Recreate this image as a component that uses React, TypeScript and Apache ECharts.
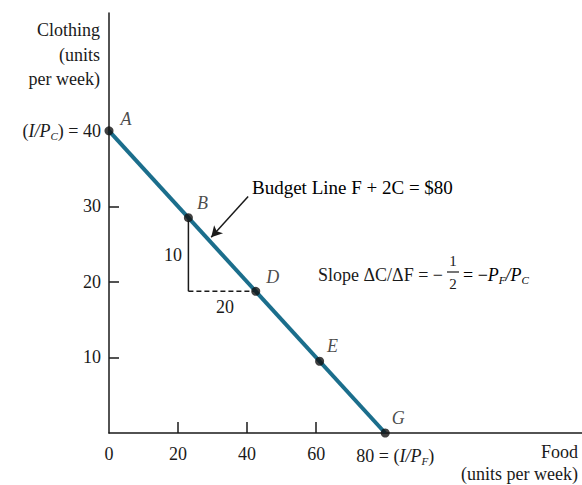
import React, { useEffect, useRef } from "react";
import * as echarts from "echarts";

const budgetLine: [number, number][] = [[0, 40], [80, 0]];
const pointNames = ["A", "B", "D", "E", "G"];
const pointX = [0, 23, 42.5, 61, 80];
const pointY = [40, 28.5, 18.75, 9.5, 0];
const labelOffsets: [number, number][] = [[17, -12], [14, -15], [17, -14], [13, -15], [13, -15]];
const riseSegment: [number, number][] = [[23, 28.5], [23, 18.75]];
const runSegment: [number, number][] = [[23, 18.75], [42.5, 18.75]];
const arrowFrom: [number, number] = [40.3, 31.3];
const arrowTo: [number, number] = [29.6, 25.9];
const xTickValues = [20, 40, 60];
const xLabelValues = [0, 20, 40, 60, 80];
const yTickValues = [10, 20, 30];
const yLabelValues = [10, 20, 30, 40];

const SERIF = "'Liberation Serif', 'DejaVu Serif', serif";
const FS = 18;
const INK = "#1a1a1a";

export default function App() {
  const ref = useRef<HTMLDivElement>(null);
  useEffect(() => {
    document.body.style.margin = "0";
    const chart = echarts.init(ref.current!, null, { renderer: "svg" });
    const rich = {
      n: { fontFamily: SERIF, fontSize: FS, color: INK },
      b: { fontFamily: SERIF, fontSize: 19, color: INK },
      i: { fontFamily: SERIF, fontSize: FS, color: INK, fontStyle: "italic" },
      s: { fontFamily: SERIF, fontSize: 11, color: INK, fontStyle: "italic", padding: [10, 0, 0, 0] },
      w: { width: 20 },
    };
    chart.setOption({
      animation: false,
      grid: { left: 109, right: 0, top: 13, bottom: 52 },
      xAxis: {
        type: "value",
        min: 0,
        max: 137,
        splitLine: { show: false },
        axisLine: { show: true, lineStyle: { color: INK, width: 1.5 } },
        axisTick: { show: true, customValues: xTickValues, inside: true, length: 11, lineStyle: { color: INK, width: 1.5 } },
        axisLabel: {
          customValues: xLabelValues,
          margin: 12,
          fontFamily: SERIF,
          fontSize: FS,
          color: INK,
          rich,
          formatter: (v: number) => (v === 80 ? "{w| }{n|80 = (}{i|I/P}{s|F}{n|)}" : String(v)),
        },
      },
      yAxis: {
        type: "value",
        min: 0,
        max: 55.6,
        splitLine: { show: false },
        axisLine: { show: true, lineStyle: { color: INK, width: 1.5 } },
        axisTick: { show: true, customValues: yTickValues, inside: true, length: 10, lineStyle: { color: INK, width: 1.5 } },
        axisLabel: {
          customValues: yLabelValues,
          margin: 8,
          fontFamily: SERIF,
          fontSize: FS,
          color: INK,
          rich,
          formatter: (v: number) => (v === 40 ? "{n|(}{i|I/P}{s|C}{n|) = 40}" : String(v)),
        },
      },
      series: [
        {
          type: "line",
          data: budgetLine,
          symbol: "none",
          clip: false,
          lineStyle: { color: "#1b6e8c", width: 4 },
          z: 3,
          markLine: {
            silent: true,
            symbol: ["none", "arrow"],
            symbolSize: [9, 11],
            label: { show: false },
            lineStyle: { color: INK, type: "solid", width: 1.5 },
            data: [[{ coord: arrowFrom }, { coord: arrowTo }]],
          },
        },
        {
          type: "line",
          data: riseSegment,
          symbol: "none",
          lineStyle: { color: INK, width: 1.5 },
          z: 2,
        },
        {
          type: "line",
          data: runSegment,
          symbol: "none",
          lineStyle: { color: INK, width: 1.5, type: [5, 3] },
          z: 2,
        },
        {
          type: "scatter",
          clip: false,
          symbolSize: 9,
          itemStyle: { color: "#111" },
          z: 5,
          data: pointNames.map((name, k) => ({
            name,
            value: [pointX[k], pointY[k]],
            label: {
              show: true,
              position: "inside",
              offset: labelOffsets[k],
              formatter: name,
              fontFamily: SERIF,
              fontSize: FS,
              fontStyle: "italic",
              color: INK,
            },
          })),
        },
      ],
      graphic: [
        { type: "text", x: 100, y: 30, style: { text: "Clothing", align: "right", verticalAlign: "middle", font: `${FS}px ${SERIF}`, fill: INK } },
        { type: "text", x: 100, y: 55, style: { text: "(units", align: "right", verticalAlign: "middle", font: `${FS}px ${SERIF}`, fill: INK } },
        { type: "text", x: 100, y: 79, style: { text: "per week)", align: "right", verticalAlign: "middle", font: `${FS}px ${SERIF}`, fill: INK } },
        { type: "text", x: 578, y: 452, style: { text: "Food", align: "right", verticalAlign: "middle", font: `${FS}px ${SERIF}`, fill: INK } },
        { type: "text", x: 578, y: 474, style: { text: "(units per week)", align: "right", verticalAlign: "middle", font: `${FS}px ${SERIF}`, fill: INK } },
        { type: "text", x: 182, y: 255, style: { text: "10", align: "right", verticalAlign: "middle", font: `${FS}px ${SERIF}`, fill: INK } },
        { type: "text", x: 225, y: 307, style: { text: "20", align: "center", verticalAlign: "middle", font: `${FS}px ${SERIF}`, fill: INK } },
        {
          type: "text",
          x: 252,
          y: 187,
          style: {
            text: "{b|Budget Line F + 2C = $80}",
            rich,
            align: "left",
            verticalAlign: "middle",
          },
        },
        { type: "text", x: 318, y: 275, style: { text: "Slope ΔC/ΔF = −", align: "left", verticalAlign: "middle", font: `${FS}px ${SERIF}`, fill: INK } },
        { type: "text", x: 453, y: 261, style: { text: "1", align: "center", verticalAlign: "middle", font: `15px ${SERIF}`, fill: INK } },
        { type: "line", shape: { x1: 447, y1: 272, x2: 459, y2: 272 }, style: { stroke: INK, lineWidth: 1.2 } },
        { type: "text", x: 453, y: 284, style: { text: "2", align: "center", verticalAlign: "middle", font: `15px ${SERIF}`, fill: INK } },
        {
          type: "text",
          x: 463,
          y: 275,
          style: {
            text: "{n|= −}{i|P}{s|F}{i|/P}{s|C}",
            rich,
            align: "left",
            verticalAlign: "middle",
          },
        },
      ],
    });
    return () => chart.dispose();
  }, []);
  return <div ref={ref} style={{ width: 582, height: 485 }} />;
}
